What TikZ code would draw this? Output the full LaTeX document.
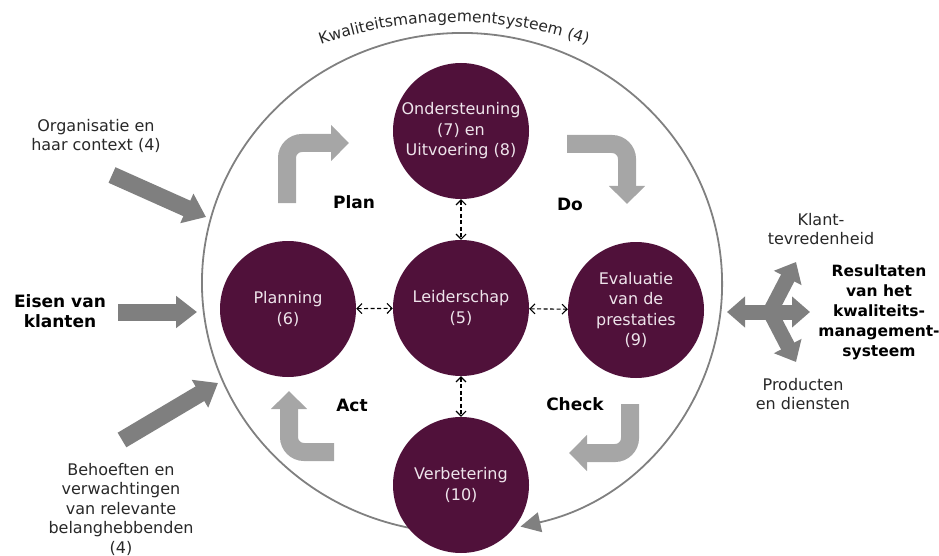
\documentclass[tikz,border=0pt]{standalone}
\usepackage{fontspec}
\setmainfont{DejaVu Sans}
\usetikzlibrary{arrows.meta,decorations.text}
\definecolor{plum}{RGB}{80,17,58}
\definecolor{arrowgray}{RGB}{127,127,127}
\definecolor{pdcagray}{RGB}{166,166,166}
\definecolor{ringgray}{RGB}{128,128,128}
\definecolor{circtext}{RGB}{238,228,235}
\definecolor{txt}{RGB}{40,40,40}
\begin{document}
\begin{tikzpicture}[x=1pt,y=1pt,
  pillar/.style={circle, fill=plum, minimum size=136pt, inner sep=0pt, align=center, text=circtext, font=\fontsize{16}{20.5}\selectfont},
  plainlabel/.style={align=center, text=txt, font=\fontsize{16}{19.5}\selectfont},
  boldlabel/.style={align=center, text=black, font=\bfseries\fontsize{17}{20}\selectfont},
  reslabel/.style={align=center, text=black, font=\bfseries\fontsize{15.5}{20}\selectfont},
  inarrow/.style={draw=arrowgray, line width=17pt, -{Triangle[length=21pt,width=31pt]}},
  pdca/.style={draw=pdcagray, line width=18pt, rounded corners=15pt, -{Triangle[length=18pt,width=35pt]}},
  resarrow/.style={draw=arrowgray, line width=15pt, -{Triangle[length=18pt,width=30pt]}},
  link/.style={draw=black, line width=1.1pt, dash pattern=on 4pt off 2.5pt, {Straight Barb[length=5pt,width=10pt]}-{Straight Barb[length=5pt,width=10pt]}},
]
\useasboundingbox (0,0) rectangle (939,-556);

% big ring with arrow into Verbetering
\draw[ringgray, line width=1.8pt, {Triangle[length=20pt,width=20pt]}-]
  (462,-283) ++(-77:260 and 250) arc[start angle=-77, end angle=262, x radius=260, y radius=250];

% title along the ring
\path[decorate, decoration={text along path, text align=center, text color=txt,
  text={|\fontsize{15.5}{18}\selectfont|Kwaliteitsmanagementsysteem (4)}}]
  (454,-422) ++(116:400) arc[start angle=116, end angle=64, radius=400];

% PDCA circles
\node[pillar] (ond) at (461,-131) {Ondersteuning\\(7) en\\Uitvoering (8)};
\node[pillar] (lei) at (461,-308) {Leiderschap\\(5)};
\node[pillar] (pla) at (288,-309) {Planning\\(6)};
\node[pillar] (eva) at (636,-310) {Evaluatie\\van de\\prestaties\\(9)};
\node[pillar] (ver) at (461,-485) {Verbetering\\(10)};

% dashed links
\draw[link] (ond) -- (lei);
\draw[link] (lei) -- (ver);
\draw[link] (pla) -- (lei);
\draw[link] (lei) -- (eva);

% PDCA bent arrows
\draw[pdca] (287,-203) |- (349,-143);
\draw[pdca] (567,-144) -| (627,-204);
\draw[pdca] (630,-404) |- (569,-453);
\draw[pdca] (334,-452) -| (289,-391);

\node[boldlabel] (plan) at (354,-202) {Plan};
\node[boldlabel] (do) at (570,-204) {Do};
\node[boldlabel] (act) at (352,-405) {Act};
\node[boldlabel] (check) at (575,-404) {Check};

% inputs
\node[plainlabel] (org) at (96,-136) {Organisatie en\\haar context (4)};
\node[boldlabel] (eisen) at (60,-311) {Eisen van\\klanten};
\node[plainlabel] (beh) at (121,-509) {Behoeften en\\verwachtingen\\van relevante\\belanghebbenden\\(4)};

\coordinate (orgS) at (112,-175);
\coordinate (orgE) at (206,-217);
\coordinate (eisS) at (118,-312);
\coordinate (eisE) at (197,-312);
\coordinate (behS) at (122,-440);
\coordinate (behE) at (218,-383);
\draw[inarrow] (orgS) -- (orgE);
\draw[inarrow] (eisS) -- (eisE);
\draw[inarrow] (behS) -- (behE);

% outputs
\node[plainlabel] (klant) at (821,-229) {Klant-\\tevredenheid};
\node[reslabel] (res) at (879,-312) {Resultaten\\van het\\kwaliteits-\\management-\\systeem};
\node[plainlabel] (prod) at (803,-394) {Producten\\en diensten};

\coordinate (rc) at (770,-312);
\coordinate (rL) at (727,-312);
\coordinate (rR) at (810,-312);
\coordinate (rU) at (796,-262);
\coordinate (rD) at (796,-362);
\draw[resarrow] (rc) -- (rL);
\draw[resarrow] (rc) -- (rR);
\draw[resarrow] (rc) -- (rU);
\draw[resarrow] (rc) -- (rD);
\end{tikzpicture}
\end{document}
